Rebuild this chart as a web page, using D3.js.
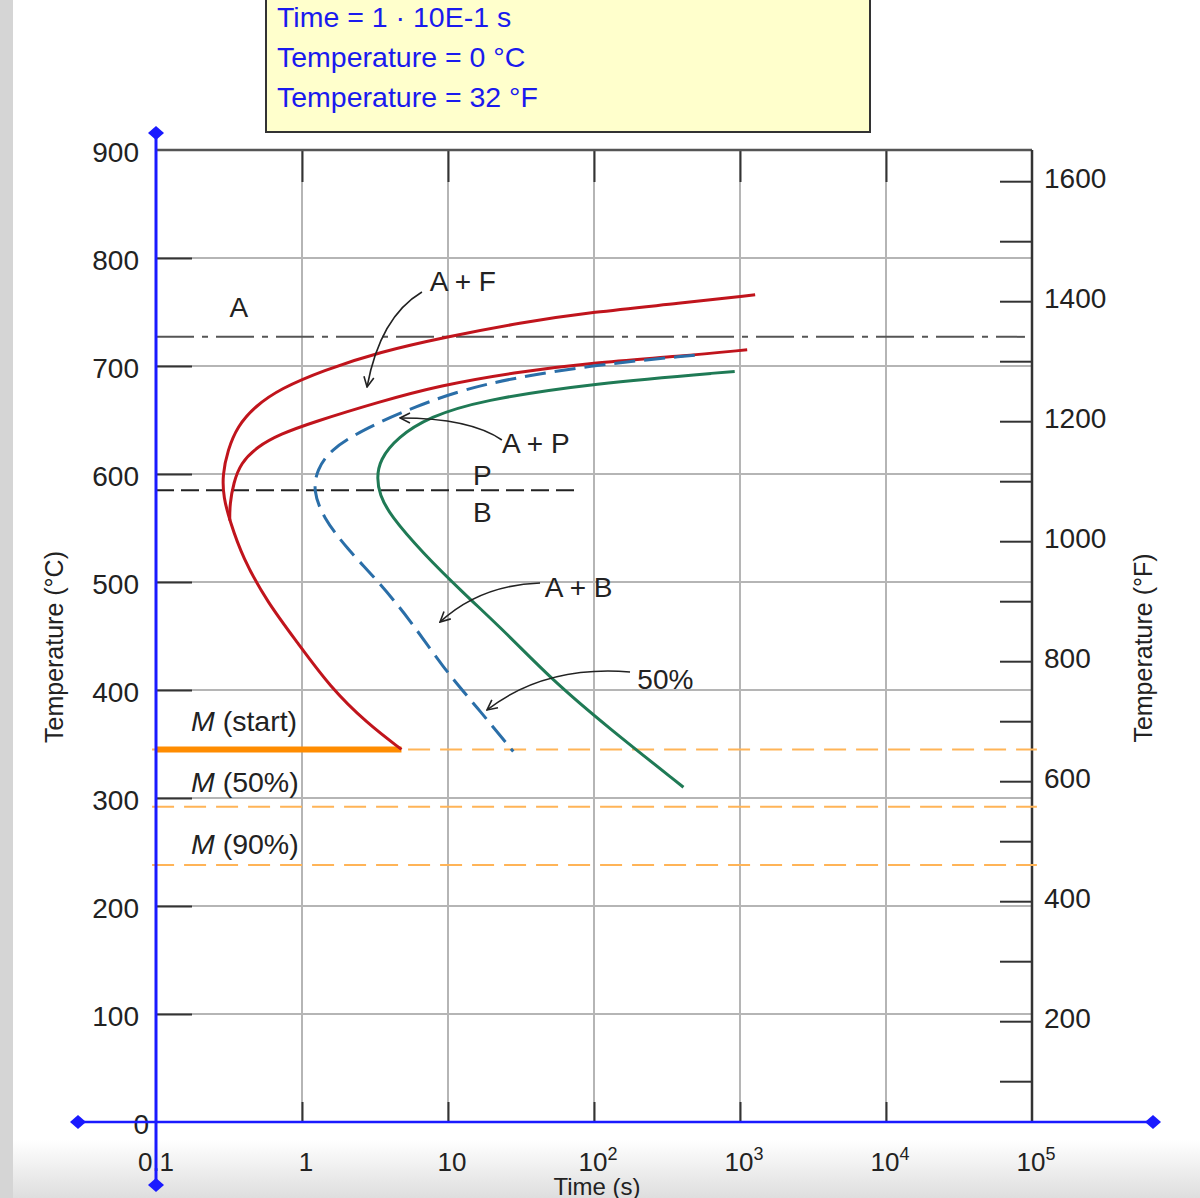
<!DOCTYPE html>
<html><head><meta charset="utf-8">
<script src="https://cdn.jsdelivr.net/npm/d3@7"></script>
<style>
body{margin:0;background:#fff}
svg{display:block}
text{font-family:"Liberation Sans",Arial,Helvetica,sans-serif}
</style>
</head><body>
<svg id="c" width="1200" height="1198"></svg>
<script>
// ---------- data ----------
const timeDecades = [0.1, 1, 10, 100, 1000, 10000, 100000];
const timeTickLabels = [["0.1",""],["1",""],["10",""],["10","2"],["10","3"],["10","4"],["10","5"]];
const celsiusTicks = [0,100,200,300,400,500,600,700,800,900];
const fahrenheitTicks = [100,200,300,400,500,600,700,800,900,1000,1100,1200,1300,1400,1500,1600];
const fahrenheitLabels = [200,400,600,800,1000,1200,1400,1600];

// [time s, temperature °C]
const startCurve = [[1270,766],[390,758],[98,750],[31,740],[9.8,727],[3.4,713],[1.4,696],[0.71,679],[0.48,663],[0.36,644],[0.31,622],[0.285,599],[0.29,578],[0.32,557],[0.39,523],[0.58,481],[0.93,444],[1.55,403],[2.8,369],[4.8,345]];
const ferriteEndCurve = [[1120,715],[390,709],[98,703],[28,694],[8.8,682],[3.4,667],[1.19,648],[0.71,637],[0.49,625],[0.38,610],[0.34,592],[0.32,572],[0.32,557]];
const midCurve = [[490,710],[98,701],[16.6,684],[5.8,662],[2.6,641],[1.55,622],[1.27,604],[1.19,585],[1.39,560],[2.03,531],[3.26,502],[5.5,465],[9.2,421],[15.8,384],[28,343]];
const finishCurve = [[920,695],[98,684],[16.6,668],[7.5,653],[4.5,634],[3.4,613],[3.26,596],[3.4,581],[4.0,562],[6.7,527],[12.7,490],[25,453],[52,409],[123,366],[410,310]];

const tempA1 = 727, tempPB = 585;
const tempMs = 345, tempM50 = 292, tempM90 = 238;
const msEndTime = 4.8;
const a1Extent = [0.1, 89500];
const pbExtent = [0.1, 80];
const mExtent = [0.094, 108000];

const infoLines = ["Time = 1 \u00B7 10E-1 s", "Temperature = 0 \u00B0C", "Temperature = 32 \u00B0F"];

const regionLabels = [
  {t:0.37, T:745, s:"A", anchor:"middle"},
  {t:7.5, T:769, s:"A + F", anchor:"start"},
  {t:23.4, T:619, s:"A + P", anchor:"start"},
  {t:17.2, T:590, s:"P", anchor:"middle"},
  {t:17.2, T:556, s:"B", anchor:"middle"},
  {t:46, T:486, s:"A + B", anchor:"start"},
  {t:198, T:401, s:"50%", anchor:"start"}
];
const mLabels = [
  {T:362, rest:" (start)"},
  {T:306, rest:" (50%)"},
  {T:248, rest:" (90%)"}
];
// annotation arrows: start, control, end  [time, temp]
const arrows = [
  [[6.63,768.5],[3.42,745.4],[2.79,680.6]],
  [[23.4,631.5],[14.2,651.9],[4.69,651.9]],
  [[42.7,499.1],[16.6,497.2],[8.82,463]],
  [[176.5,416.7],[46.2,423.1],[18.5,381.5]]
];

// ---------- chart ----------
const svg = d3.select("#c");
const x = d3.scaleLog().domain([0.1, 1e5]).range([156, 1032]);
const y = d3.scaleLinear().domain([0, 900]).range([1122, 150]);
const yF = d3.scaleLinear().domain([32, 32 + 900*1.8]).range([1122, 150]);
const FONT = "'Liberation Sans',Arial,sans-serif";

// page decoration
const defs = svg.append("defs");
const grad = defs.append("linearGradient").attr("id","bg").attr("x1",0).attr("y1",0).attr("x2",0).attr("y2",1);
grad.append("stop").attr("offset","0").attr("stop-color","#fff");
grad.append("stop").attr("offset","1").attr("stop-color","#dedede");
svg.append("rect").attr("x",0).attr("y",1140).attr("width",1200).attr("height",58).attr("fill","url(#bg)");
svg.append("rect").attr("x",0).attr("y",0).attr("width",13).attr("height",1198).attr("fill","#d5d5d5");

const mk = defs.append("marker").attr("id","ah").attr("viewBox","0 0 12 12").attr("refX",11).attr("refY",6)
  .attr("markerWidth",12).attr("markerHeight",12).attr("markerUnits","userSpaceOnUse").attr("orient","auto");
mk.append("path").attr("d","M1,1 L11,6 L1,11").attr("fill","none").attr("stroke","#222").attr("stroke-width",1.6);

// grid
const grid = svg.append("g");
grid.selectAll(".vg").data(timeDecades.slice(1,-1)).join("line")
  .attr("x1",d=>x(d)).attr("x2",d=>x(d)).attr("y1",y(900)).attr("y2",y(0))
  .attr("stroke","#b5b5b5").attr("stroke-width",2);
grid.selectAll(".hg").data(celsiusTicks.slice(1,-1)).join("line")
  .attr("x1",x(0.1)).attr("x2",x(1e5)).attr("y1",d=>y(d)).attr("y2",d=>y(d))
  .attr("stroke","#b5b5b5").attr("stroke-width",2);

// tick marks via axes
const tickStyle = g => { g.select(".domain").remove(); g.selectAll("line").attr("stroke","#333").attr("stroke-width",2); g.selectAll("text").remove(); };
svg.append("g").attr("transform",`translate(156,0)`).call(d3.axisRight(y).tickValues(celsiusTicks.slice(1,-1)).tickSize(36)).call(tickStyle);
svg.append("g").attr("transform",`translate(0,150)`).call(d3.axisBottom(x).tickValues(timeDecades.slice(1,-1)).tickSize(32)).call(tickStyle);
svg.append("g").attr("transform",`translate(0,1122)`).call(d3.axisTop(x).tickValues(timeDecades.slice(1,-1)).tickSize(20)).call(tickStyle);
svg.append("g").attr("transform",`translate(1032,0)`).call(d3.axisLeft(yF).tickValues(fahrenheitTicks).tickSize(32)).call(tickStyle);

// frame top / right
svg.append("line").attr("x1",x(0.1)).attr("x2",x(1e5)).attr("y1",y(900)).attr("y2",y(900)).attr("stroke","#555").attr("stroke-width",2.5);
svg.append("line").attr("x1",x(1e5)).attr("x2",x(1e5)).attr("y1",y(900)).attr("y2",y(0)).attr("stroke","#333").attr("stroke-width",2.5);

// reference lines
svg.append("line").attr("x1",x(a1Extent[0])).attr("x2",x(a1Extent[1])).attr("y1",y(tempA1)).attr("y2",y(tempA1))
  .attr("stroke","#555").attr("stroke-width",2).attr("stroke-dasharray","38,8,6,8");
svg.append("line").attr("x1",x(pbExtent[0])).attr("x2",x(pbExtent[1])).attr("y1",y(tempPB)).attr("y2",y(tempPB))
  .attr("stroke","#222").attr("stroke-width",2).attr("stroke-dasharray","18,7");
[tempMs, tempM50, tempM90].forEach(T => {
  svg.append("line").attr("x1",x(mExtent[0])).attr("x2",x(mExtent[1])).attr("y1",y(T)).attr("y2",y(T))
    .attr("stroke","#ffb457").attr("stroke-width",2).attr("stroke-dasharray","22,10");
});
svg.append("line").attr("x1",x(0.1)).attr("x2",x(msEndTime)).attr("y1",y(tempMs)).attr("y2",y(tempMs))
  .attr("stroke","#ff8c00").attr("stroke-width",6);

// curves
const line = d3.line().x(d=>x(d[0])).y(d=>y(d[1])).curve(d3.curveBasis);
svg.append("path").attr("d",line(startCurve)).attr("fill","none").attr("stroke","#c0141c").attr("stroke-width",3);
svg.append("path").attr("d",line(ferriteEndCurve)).attr("fill","none").attr("stroke","#c0141c").attr("stroke-width",3);
svg.append("path").attr("d",line(midCurve)).attr("fill","none").attr("stroke","#2a6ea8").attr("stroke-width",3).attr("stroke-dasharray","21,9");
svg.append("path").attr("d",line(finishCurve)).attr("fill","none").attr("stroke","#1f7a55").attr("stroke-width",3);

// arrows
arrows.forEach(a => {
  const p = a.map(d=>[x(d[0]), y(d[1])]);
  svg.append("path").attr("d",`M${p[0][0]},${p[0][1]} Q${p[1][0]},${p[1][1]} ${p[2][0]},${p[2][1]}`)
    .attr("fill","none").attr("stroke","#222").attr("stroke-width",1.6).attr("marker-end","url(#ah)");
});

// region labels
svg.selectAll(".rl").data(regionLabels).join("text")
  .attr("x",d=>x(d.t)).attr("y",d=>y(d.T)).attr("text-anchor",d=>d.anchor)
  .attr("font-size",28).attr("fill","#222").text(d=>d.s);
mLabels.forEach(d => {
  const t = svg.append("text").attr("x",191).attr("y",y(d.T)).attr("font-size",28.5).attr("fill","#222");
  t.append("tspan").attr("font-style","italic").text("M");
  t.append("tspan").text(d.rest);
});

// tick labels
svg.append("g").attr("transform","translate(156,0)")
  .call(d3.axisLeft(y).tickValues(celsiusTicks).tickSize(0).tickPadding(17))
  .call(g => { g.select(".domain").remove(); g.selectAll("text").attr("font-size",28).attr("fill","#222")
     .attr("font-family",FONT).attr("dy","0.4em")
     .attr("dx", d => d===0 ? 10 : 0); });
svg.append("g").attr("transform","translate(1032,0)")
  .call(d3.axisRight(yF).tickValues(fahrenheitLabels).tickFormat(d3.format("d")).tickSize(0).tickPadding(12))
  .call(g => { g.select(".domain").remove(); g.selectAll("text").attr("font-size",28).attr("fill","#222")
     .attr("font-family",FONT).attr("dy","0.22em"); });
const bl = svg.selectAll(".bl").data(timeDecades).join("text")
  .attr("x",(d,i)=>x(d) + (i===0?0:4)).attr("y",1171).attr("text-anchor","middle").attr("font-size",26).attr("fill","#222");
bl.append("tspan").text((d,i)=>timeTickLabels[i][0]);
bl.append("tspan").attr("font-size",18).attr("dy",-11).text((d,i)=>timeTickLabels[i][1]);

// axis titles
svg.append("text").attr("transform","translate(63,647) rotate(-90)").attr("text-anchor","middle")
  .attr("font-size",25).attr("fill","#222").text("Temperature (\u00B0C)");
svg.append("text").attr("transform","translate(1152,648) rotate(-90)").attr("text-anchor","middle")
  .attr("font-size",25).attr("fill","#222").text("Temperature (\u00B0F)");
svg.append("text").attr("x",597).attr("y",1195).attr("text-anchor","middle")
  .attr("font-size",24).attr("fill","#222").text("Time (s)");

// blue cursor axes
const blue = "#1a1aff";
svg.append("line").attr("x1",78).attr("x2",1153).attr("y1",y(0)).attr("y2",y(0)).attr("stroke",blue).attr("stroke-width",2.5);
svg.append("line").attr("x1",x(0.1)).attr("x2",x(0.1)).attr("y1",133).attr("y2",1185).attr("stroke",blue).attr("stroke-width",3);
const diamond = (cx,cy) => svg.append("path").attr("d",`M${cx},${cy-7} L${cx+8},${cy} L${cx},${cy+7} L${cx-8},${cy} Z`).attr("fill",blue);
diamond(x(0.1),133); diamond(x(0.1),1185); diamond(78,y(0)); diamond(1153,y(0));

// info box
svg.append("rect").attr("x",266).attr("y",-2).attr("width",604).attr("height",134)
  .attr("fill","#ffffcc").attr("stroke","#333").attr("stroke-width",2);
svg.selectAll(".info").data(infoLines).join("text")
  .attr("x",277).attr("y",(d,i)=>27+i*40).attr("font-size",28.5).attr("fill","#1a1aee").text(d=>d);
</script>
</body></html>
